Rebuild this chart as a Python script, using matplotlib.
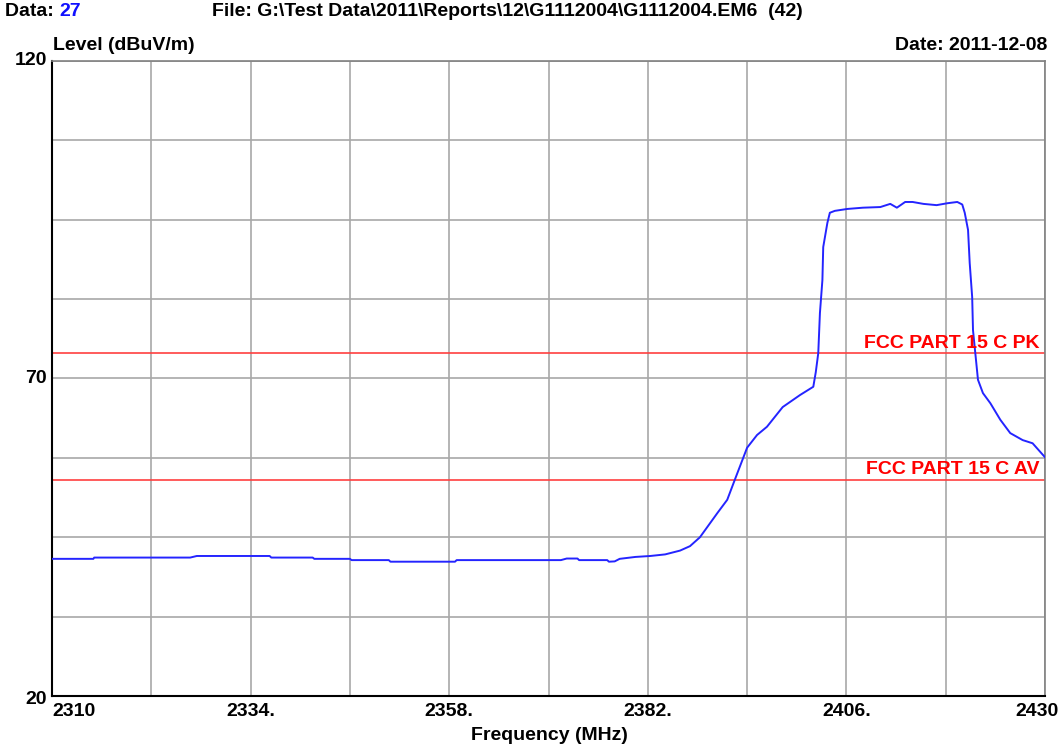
import matplotlib
matplotlib.use("Agg")
import matplotlib.pyplot as plt
from matplotlib.transforms import blended_transform_factory, offset_copy

plt.rcParams['font.family'] = ['Liberation Sans', 'DejaVu Sans']
plt.rcParams['font.weight'] = 'bold'

# ---- data ----
freq_mhz = [2310.0, 2315.0, 2315.1, 2326.7, 2327.5, 2336.3, 2336.5, 2341.5, 2341.7,
            2346.0, 2346.2, 2350.7, 2350.9, 2358.7, 2358.9, 2371.5, 2372.2, 2373.5,
            2373.7, 2377.1, 2377.3, 2378.0, 2378.6, 2380.5, 2382.3, 2384.1, 2385.9,
            2387.1, 2388.3, 2390.4, 2391.6, 2392.5, 2394.0, 2395.2, 2396.4, 2398.3,
            2400.4, 2402.0, 2402.3, 2402.6, 2402.8, 2403.1, 2403.2, 2403.7, 2404.0,
            2404.6, 2406.1, 2408.0, 2410.1, 2411.3, 2412.1, 2413.1, 2414.0, 2415.3,
            2416.9, 2418.2, 2419.4, 2420.0, 2420.3, 2420.7, 2420.9, 2421.2, 2421.3,
            2421.7, 2421.9, 2422.5, 2423.4, 2424.6, 2425.8, 2427.3, 2428.5, 2430.0]
level_dbuv = [41.6, 41.6, 41.8, 41.8, 42.05, 42.05, 41.8, 41.8, 41.6,
              41.6, 41.4, 41.4, 41.15, 41.15, 41.4, 41.4, 41.65, 41.65,
              41.4, 41.4, 41.15, 41.2, 41.6, 41.9, 42.05, 42.3, 42.9,
              43.6, 45.0, 48.8, 50.9, 54.0, 59.1, 61.1, 62.4, 65.5,
              67.4, 68.7, 71.0, 74.0, 80.3, 85.5, 90.7, 94.5, 96.1,
              96.4, 96.7, 96.9, 97.0, 97.5, 96.9, 97.8, 97.8, 97.5,
              97.3, 97.6, 97.8, 97.4, 96.1, 93.4, 88.2, 82.8, 77.6,
              72.4, 69.8, 67.7, 66.1, 63.5, 61.4, 60.3, 59.8, 57.6]
limit_pk = 74.0
limit_av = 54.0
limit_labels = ["FCC PART 15 C PK", "FCC PART 15 C AV"]
x_ticks = [2310, 2334, 2358, 2382, 2406, 2430]
x_tick_labels = ["2310", "2334.", "2358.", "2382.", "2406.", "2430"]
y_ticks = [20, 70, 120]
y_tick_labels = ["20", "70", "120"]
x_grid = [2310 + 12 * i for i in range(11)]
y_grid = [20 + 12.5 * i for i in range(9)]
x_range = (2310, 2430)
y_range = (20, 120)

FS = 14
W, H = 1061, 746
fig = plt.figure(figsize=(W / 100, H / 100), dpi=100)
fig.patch.set_facecolor('white')
ax = fig.add_axes([52 / W, 1 - 696 / H, (1045 - 52) / W, (696 - 61) / H])
ax.set_xlim(*x_range)
ax.set_ylim(*y_range)

for xg in x_grid:
    ax.axvline(xg, color='#a8a8a8', lw=1.2, zorder=1)
for yg in y_grid:
    ax.axhline(yg, color='#a8a8a8', lw=1.2, zorder=1)

ax.axhline(limit_pk, color='#ff4040', lw=1.2, zorder=2)
ax.axhline(limit_av, color='#ff4040', lw=1.2, zorder=2)
ax.plot(freq_mhz, level_dbuv, color='#2424ff', lw=1.4, zorder=3)

tr = blended_transform_factory(ax.transAxes, ax.transData)
ax.text(0.994, limit_pk + 0.8, limit_labels[0], transform=tr, ha='right', va='baseline',
        color='#ff0000', fontsize=FS, fontweight='bold')
ax.text(0.994, limit_av + 1.0, limit_labels[1], transform=tr, ha='right', va='baseline',
        color='#ff0000', fontsize=FS, fontweight='bold')

for sp in ['top', 'right']:
    ax.spines[sp].set_color('#808080')
    ax.spines[sp].set_linewidth(1.2)
for sp in ['left', 'bottom']:
    ax.spines[sp].set_color('black')
    ax.spines[sp].set_linewidth(1.5)

ax.set_xticks([])
ax.set_yticks([])

# x tick labels
trx = blended_transform_factory(ax.transData, ax.transAxes)
for i, (xv, lab) in enumerate(zip(x_ticks, x_tick_labels)):
    t = offset_copy(trx, fig=fig, x=0, y=-15, units='dots')
    if i == 0:
        ax.text(xv + 0.1, 0, lab, transform=t, ha='left', va='center', fontsize=FS)
    elif i == len(x_ticks) - 1:
        ax.text(xv + 1.6, 0, lab, transform=t, ha='right', va='center', fontsize=FS)
    else:
        ax.text(xv, 0, lab, transform=t, ha='center', va='center', fontsize=FS)

# y tick labels
try_ = blended_transform_factory(ax.transAxes, ax.transData)
for yv, lab in zip(y_ticks, y_tick_labels):
    t = offset_copy(try_, fig=fig, x=-5, y=(-3 if yv == y_range[0] else 0), units='dots')
    ax.text(0, yv, lab, transform=t, ha='right', va='center', fontsize=FS)

# header texts
fig.text(5 / W, 1 - 12 / H, "Data: ", ha='left', va='center', fontsize=FS)
fig.text(59 / W, 1 - 12 / H, "27", ha='left', va='center', fontsize=FS, color='#1010ff')
fig.text(212 / W, 1 - 12 / H, r"File: G:\Test Data\2011\Reports\12\G1112004\G1112004.EM6  (42)",
         ha='left', va='center', fontsize=FS)
fig.text(53 / W, 1 - 46 / H, "Level (dBuV/m)", ha='left', va='center', fontsize=FS)
fig.text(1047 / W, 1 - 46 / H, "Date: 2011-12-08", ha='right', va='center', fontsize=FS)
fig.text(549 / W, 1 - 735 / H, "Frequency (MHz)", ha='center', va='center', fontsize=FS)

fig.savefig("out.png", dpi=100, facecolor='white')
